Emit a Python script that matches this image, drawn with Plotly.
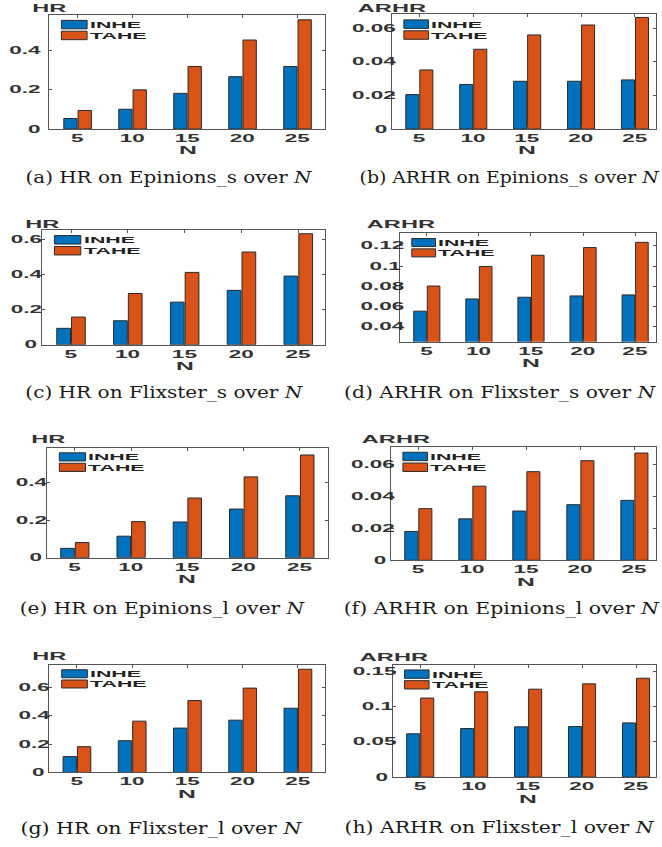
import plotly.graph_objects as go

# ---- data -----------------------------------------------------------------
N_LABELS = ["5", "10", "15", "20", "25"]

HR_EPINIONS_S_INHE = [0.054, 0.101, 0.182, 0.267, 0.319]
HR_EPINIONS_S_TAHE = [0.095, 0.200, 0.319, 0.454, 0.557]
ARHR_EPINIONS_S_INHE = [0.0205, 0.0265, 0.0284, 0.0284, 0.0292]
ARHR_EPINIONS_S_TAHE = [0.0351, 0.0474, 0.0559, 0.0618, 0.0663]

HR_FLIXSTER_S_INHE = [0.094, 0.137, 0.243, 0.310, 0.391]
HR_FLIXSTER_S_TAHE = [0.158, 0.292, 0.412, 0.528, 0.632]
ARHR_FLIXSTER_S_INHE = [0.0554, 0.0675, 0.0692, 0.0705, 0.0715]
ARHR_FLIXSTER_S_TAHE = [0.0803, 0.0997, 0.1108, 0.1184, 0.1236]

HR_EPINIONS_L_INHE = [0.050, 0.115, 0.191, 0.260, 0.331]
HR_EPINIONS_L_TAHE = [0.081, 0.193, 0.319, 0.432, 0.549]
ARHR_EPINIONS_L_INHE = [0.0181, 0.0260, 0.0309, 0.0349, 0.0376]
ARHR_EPINIONS_L_TAHE = [0.0324, 0.0465, 0.0556, 0.0625, 0.0673]

HR_FLIXSTER_L_INHE = [0.112, 0.224, 0.313, 0.369, 0.453]
HR_FLIXSTER_L_TAHE = [0.182, 0.362, 0.507, 0.595, 0.728]
ARHR_FLIXSTER_L_INHE = [0.0616, 0.0691, 0.0715, 0.0719, 0.0771]
ARHR_FLIXSTER_L_TAHE = [0.1124, 0.1213, 0.1250, 0.1326, 0.1406]

SERIES_NAMES = ["INHE", "TAHE"]
METRIC_NAMES = ["HR", "ARHR", "HR", "ARHR", "HR", "ARHR", "HR", "ARHR"]

HR_TICKS_A = [0, 0.2, 0.4]
HR_TICKS_B = [0, 0.2, 0.4, 0.6]
ARHR_TICKS_A = [0, 0.02, 0.04, 0.06]
ARHR_TICKS_D = [0.04, 0.06, 0.08, 0.1, 0.12]
ARHR_TICKS_H = [0, 0.05, 0.1, 0.15]
HR_TICK_TEXT_A = ["0", "0.2", "0.4"]
HR_TICK_TEXT_B = ["0", "0.2", "0.4", "0.6"]
ARHR_TICK_TEXT_A = ["0", "0.02", "0.04", "0.06"]
ARHR_TICK_TEXT_D = ["0.04", "0.06", "0.08", "0.1", "0.12"]
ARHR_TICK_TEXT_H = ["0", "0.05", "0.1", "0.15"]

CAPTIONS = [
    "(a) HR on Epinions_s over <i>N</i>",
    "(b) ARHR on Epinions_s over <i>N</i>",
    "(c) HR on Flixster_s over <i>N</i>",
    "(d) ARHR on Flixster_s over <i>N</i>",
    "(e) HR on Epinions_l over <i>N</i>",
    "(f) ARHR on Epinions_l over <i>N</i>",
    "(g) HR on Flixster_l over <i>N</i>",
    "(h) ARHR on Flixster_l over <i>N</i>",
]

# ---- page geometry / style ---------------------------------------------------
W, H = 662, 847
BLUE = "#0072BD"
ORANGE = "#D95319"
EDGE = "#2a2a2a"
AXIS = "#555555"
TXT = "#333333"
SANS = "Liberation Sans"
SERIF = "DejaVu Serif"


def px(x):
    return x / W


def py(y):
    return 1 - y / H


# plot boxes (left, right, top, bottom) in pixels, x range, y range,
# metric-label centre, caption centre and caption width (pixels)
panels = [
    dict(inhe=HR_EPINIONS_S_INHE, tahe=HR_EPINIONS_S_TAHE, box=(49, 325, 15, 130),
         xr=(-0.52, 4.50), yr=(0, 0.582), tv=HR_TICKS_A, tt=HR_TICK_TEXT_A,
         lab=(50, 8), cap=(168.5, 179), capw=287),
    dict(inhe=ARHR_EPINIONS_S_INHE, tahe=ARHR_EPINIONS_S_TAHE, box=(392, 656, 14.5, 130),
         xr=(-0.507, 4.39), yr=(0, 0.0681), tv=ARHR_TICKS_A, tt=ARHR_TICK_TEXT_A,
         lab=(392.7, 8), cap=(509, 179), capw=300),
    dict(inhe=HR_FLIXSTER_S_INHE, tahe=HR_FLIXSTER_S_TAHE, box=(41.7, 325, 231.7, 347.3),
         xr=(-0.516, 4.47), yr=(0, 0.653), tv=HR_TICKS_B, tt=HR_TICK_TEXT_B,
         lab=(43, 225.5), cap=(164, 395), capw=278),
    dict(inhe=ARHR_FLIXSTER_S_INHE, tahe=ARHR_FLIXSTER_S_TAHE, box=(400.3, 656, 235, 344.3),
         xr=(-0.509, 4.40), yr=(0.025, 0.1325), tv=ARHR_TICKS_D, tt=ARHR_TICK_TEXT_D,
         lab=(401, 226), cap=(500, 395), capw=312),
    dict(inhe=HR_EPINIONS_L_INHE, tahe=HR_EPINIONS_L_TAHE, box=(46.7, 328, 450.7, 561.7),
         xr=(-0.50, 4.50), yr=(0, 0.589), tv=HR_TICKS_A, tt=HR_TICK_TEXT_A,
         lab=(48.8, 442.5), cap=(162.5, 612.5), capw=285),
    dict(inhe=ARHR_EPINIONS_L_INHE, tahe=ARHR_EPINIONS_L_TAHE, box=(391, 656, 450, 564.3),
         xr=(-0.506, 4.40), yr=(0, 0.0712), tv=ARHR_TICKS_A, tt=ARHR_TICK_TEXT_A,
         lab=(396, 442.5), cap=(501, 613), capw=316),
    dict(inhe=HR_FLIXSTER_L_INHE, tahe=HR_FLIXSTER_L_TAHE, box=(49.3, 325, 669.3, 778),
         xr=(-0.50, 4.49), yr=(0, 0.761), tv=HR_TICKS_B, tt=HR_TICK_TEXT_B,
         lab=(49.5, 660.5), cap=(161, 834), capw=282),
    dict(inhe=ARHR_FLIXSTER_L_INHE, tahe=ARHR_FLIXSTER_L_TAHE, box=(392.7, 656, 669.3, 782.7),
         xr=(-0.51, 4.37), yr=(0, 0.160), tv=ARHR_TICKS_H, tt=ARHR_TICK_TEXT_H,
         lab=(394, 661.5), cap=(499, 833), capw=310),
]

fig = go.Figure()
shapes, annotations = [], []
layout_axes = {}

for i, p in enumerate(panels, start=1):
    suffix = "" if i == 1 else str(i)
    xa, ya = f"x{suffix}", f"y{suffix}"
    for name, vals, color in ((SERIES_NAMES[0], p["inhe"], BLUE),
                              (SERIES_NAMES[1], p["tahe"], ORANGE)):
        fig.add_trace(go.Bar(
            x=N_LABELS, y=vals, name=name, xaxis=xa, yaxis=ya,
            marker=dict(color=color, line=dict(color=EDGE, width=1)),
            showlegend=False, hoverinfo="skip",
        ))

    L, R, T, B = p["box"]
    axis_common = dict(
        showline=True, linecolor=AXIS, linewidth=1, mirror="allticks",
        ticks="inside", ticklen=3, tickwidth=1, tickcolor=AXIS,
        showgrid=False, zeroline=False, fixedrange=True,
        tickfont=dict(family=SANS, size=10, color=TXT, weight="bold"),
    )
    layout_axes[f"xaxis{suffix}"] = dict(
        axis_common, domain=[px(L), px(R)], anchor=ya, type="category",
        range=list(p["xr"]), ticklabelstandoff=0,
    )
    layout_axes[f"yaxis{suffix}"] = dict(
        axis_common, domain=[py(B), py(T)], anchor=xa, range=list(p["yr"]),
        tickvals=p["tv"], ticktext=p["tt"], ticklabelstandoff=5,
    )

    # in-axes key: coloured swatches with labels
    for k, (name, color) in enumerate(zip(SERIES_NAMES, (BLUE, ORANGE))):
        y1 = 0.952 - k * 0.095
        y0 = y1 - 0.074
        shapes.append(dict(type="rect", xref=f"{xa} domain", yref=f"{ya} domain",
                           x0=0.045, x1=0.138, y0=y0, y1=y1,
                           fillcolor=color, line=dict(color=EDGE, width=1)))
        annotations.append(dict(xref=f"{xa} domain", yref=f"{ya} domain",
                                x=0.141, y=(y0 + y1) / 2, xanchor="left", yanchor="middle",
                                text=name, showarrow=False,
                                font=dict(family=SANS, size=9.5, color="#222222", weight="bold")))

    # metric label above the axes
    annotations.append(dict(xref="paper", yref="paper", x=px(p["lab"][0]), y=py(p["lab"][1]),
                            xanchor="center", yanchor="middle", text=METRIC_NAMES[i - 1],
                            showarrow=False,
                            font=dict(family=SANS, size=10.5, color=TXT, weight="bold")))
    # x-axis label
    annotations.append(dict(xref=xa, yref="paper", x=2, y=py(B + 21.5),
                            xanchor="center", yanchor="middle", text="N", showarrow=False,
                            font=dict(family=SANS, size=11, color=TXT, weight="bold")))
    # sub-figure caption
    annotations.append(dict(xref="paper", yref="paper", x=px(p["cap"][0]), y=py(p["cap"][1]),
                            xanchor="center", yanchor="middle", text=CAPTIONS[i - 1],
                            showarrow=False,
                            font=dict(family=SERIF, size=16.5, color="#1a1a1a")))

fig.update_layout(
    width=W, height=H, margin=dict(l=0, r=0, t=0, b=0, pad=0),
    paper_bgcolor="white", plot_bgcolor="white",
    barmode="group", bargap=0.48, bargroupgap=0.07,
    showlegend=False, shapes=shapes, annotations=annotations,
    **layout_axes,
)

# The axis lettering of these figures is set wide (horizontally expanded type),
# and the serif captions are set to a fixed measure; widen the text horizontally
# about its anchor once the figure has been drawn.
caption_widths = {c[:3]: p["capw"] for c, p in zip(CAPTIONS, panels)}
stretch_js = """
var gd = document.getElementById('{plot_id}');
var WIDE = 2.25;
var CAPW = %s;
gd.querySelectorAll('text').forEach(function (t) {
  var txt = t.textContent || '';
  if (!txt.trim()) { return; }
  var bb = t.getBBox();
  if (!bb.width) { return; }
  var s = WIDE, pivot = bb.x + bb.width / 2;
  var key = txt.slice(0, 3);
  if (CAPW[key] !== undefined && txt.indexOf(' over ') >= 0) {
    s = CAPW[key] / bb.width;
  } else if (t.closest('.ytick')) {
    pivot = bb.x + bb.width;
  } else if (txt === 'INHE' || txt === 'TAHE') {
    pivot = bb.x;
  }
  var tr = t.getAttribute('transform') || '';
  t.setAttribute('transform', tr + ' translate(' + pivot + ',0) scale(' + s + ',1) translate(' + (-pivot) + ',0)');
});
""" % str(caption_widths).replace("'", '"')

fig.write_html("out.html", post_script=stretch_js)
